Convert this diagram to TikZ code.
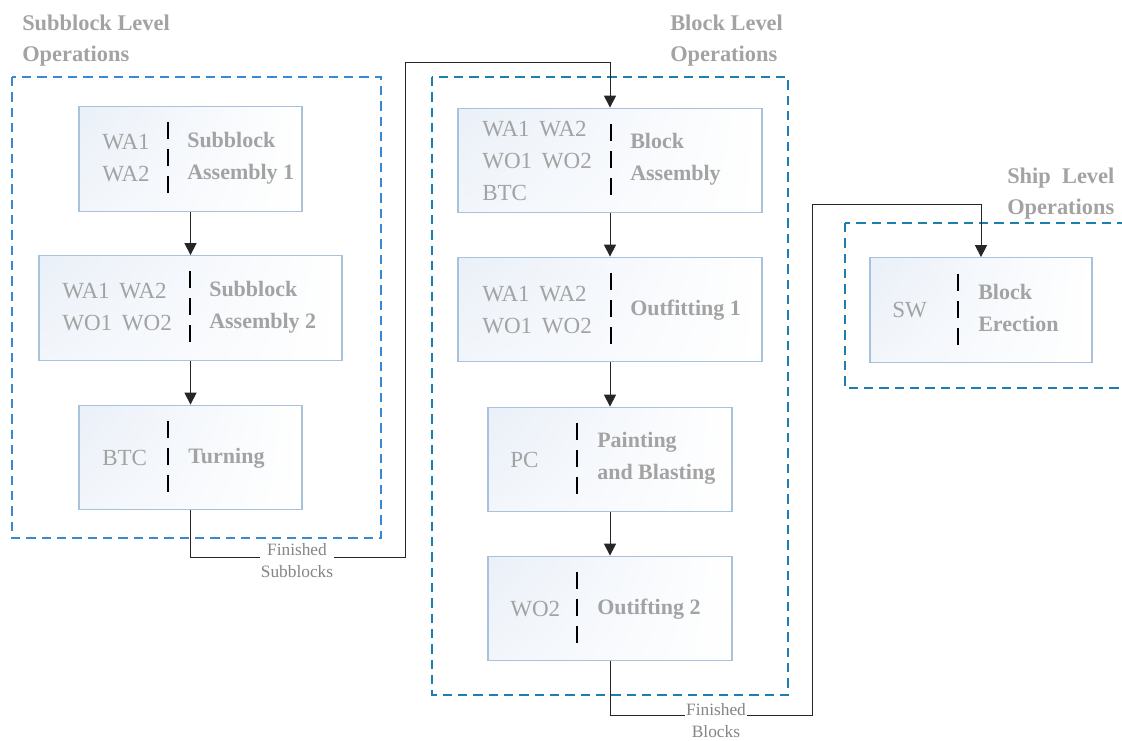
\documentclass[tikz,border=0pt]{standalone}
\usepackage{fontspec}
\setmainfont{Liberation Serif}
\usepackage{xcolor}
\usetikzlibrary{arrows.meta,shadings}
\definecolor{grpA}{HTML}{3A88D2}
\definecolor{grpB}{HTML}{1E7EAE}
\definecolor{boxline}{HTML}{A8C2DC}
\definecolor{boxfill}{HTML}{EAF0F8}
\definecolor{txtgray}{HTML}{A3A3A3}
\definecolor{lblgray}{HTML}{858585}
\tikzset{%
  tipF/.tip={Triangle[width=9pt,length=9pt]},
  opbox/.style={draw=boxline, line width=0.8pt, shade, upper left=boxfill,
    upper right=white, lower left=boxfill!60, lower right=white,
    minimum height=78.5pt, inner sep=0pt},
  station/.style={inner sep=0pt, anchor=west, align=left, text=txtgray,
    font=\fontsize{17.3}{24}\selectfont},
  task/.style={inner sep=0pt, anchor=west, align=left, text=txtgray,
    font=\fontsize{16.5}{24}\selectfont\bfseries},
  title/.style={inner sep=0pt, anchor=north west, align=left, text=txtgray,
    font=\fontsize{16.8}{23.25}\selectfont\bfseries},
  divider/.style={line width=2.2pt, dash pattern=on 12.75pt off 7.5pt},
  frameA/.style={draw=grpA, line width=1.4pt, dash pattern=on 7pt off 4.5pt},
  frameB/.style={draw=grpB, line width=1.4pt, dash pattern=on 7pt off 4.5pt},
  conn/.style={draw=black!85, line width=0.7pt},
  flowlbl/.style={fill=white, inner sep=1pt, align=center, text=lblgray,
    font=\fontsize{13}{16.5}\selectfont}
}

\begin{document}
\begin{tikzpicture}[x=0.75pt,y=-0.75pt]
\clip (0,0) rectangle (1122,740);

% level frames
\draw[frameA] (12,77) rectangle (381,538);
\draw[frameB] (432,77) rectangle (788,695);
\draw[frameB] (845,223) rectangle (1135,388);
\node[title] (tsub) at (22,15) {Subblock Level\\Operations};
\node[title] (tblk) at (670,15) {Block Level\\Operations};
\node[title] (tship) at (1007,168) {Ship\ \ Level\\Operations};

% subblock level
\node[opbox, minimum width=167.25pt] (sa1) at (190.5,159) {};
\node[opbox, minimum width=227.25pt] (sa2) at (190.5,308) {};
\node[opbox, minimum width=167.25pt] (turn) at (190.5,457.5) {};
\draw[divider] (168,122) -- (168,195);
\draw[divider] (190,271) -- (190,344);
\draw[divider] (168,421) -- (168,494);
\node[station] (sa1s) at (102,158) {WA1\\WA2};
\node[task] (sa1t) at (187,158) {Subblock\\Assembly 1};
\node[station] (sa2s) at (62,307) {WA1\ \,WA2\\WO1\ \,WO2};
\node[task] (sa2t) at (209,307) {Subblock\\Assembly 2};
\node[station] (turns) at (102,458) {BTC};
\node[task] (turnt) at (188,458) {Turning};

% block level
\node[opbox, minimum width=228pt] (ba) at (610,160.5) {};
\node[opbox, minimum width=228pt] (of1) at (610,309.5) {};
\node[opbox, minimum width=183pt] (pb) at (610,459.5) {};
\node[opbox, minimum width=183pt] (of2) at (610,608.5) {};
\draw[divider] (611,124) -- (611,197);
\draw[divider] (611,273) -- (611,346);
\draw[divider] (577,423) -- (577,496);
\draw[divider] (577,572) -- (577,645);
\node[station] (bas) at (482,161) {WA1\ \,WA2\\WO1\ \,WO2\\BTC};
\node[task] (bat) at (630,159) {Block\\Assembly};
\node[station] (of1s) at (482,310) {WA1\ \,WA2\\WO1\ \,WO2};
\node[task] (of1t) at (630,310) {Outfitting 1};
\node[station] (pbs) at (510,460) {PC};
\node[task] (pbt) at (597,458) {Painting\\and Blasting};
\node[station] (of2s) at (510,609) {WO2};
\node[task] (of2t) at (597,609) {Outifting 2};

% ship level
\node[opbox, minimum width=166.5pt] (be) at (981,310) {};
\draw[divider] (958,274) -- (958,347);
\node[station] (bes) at (892,310) {SW};
\node[task] (bet) at (978,308) {Block\\Erection};

% flow
\draw[conn, -tipF] (sa1) -- (sa2);
\draw[conn, -tipF] (sa2) -- (turn);
\draw[conn, -tipF] (ba) -- (of1);
\draw[conn, -tipF] (of1) -- (pb);
\draw[conn, -tipF] (pb) -- (of2);
\draw[conn, -tipF] (turn.south) |- (405,557) -- (405,62) -| (ba.north);
\draw[conn, -tipF] (of2.south) |- (812,715) -- (812,204) -| (be.north);
\node[flowlbl] (fsub) at (297,560.5) {Finished\\Subblocks};
\node[flowlbl] (fblk) at (716,721) {Finished\\Blocks};
\end{tikzpicture}
\end{document}
